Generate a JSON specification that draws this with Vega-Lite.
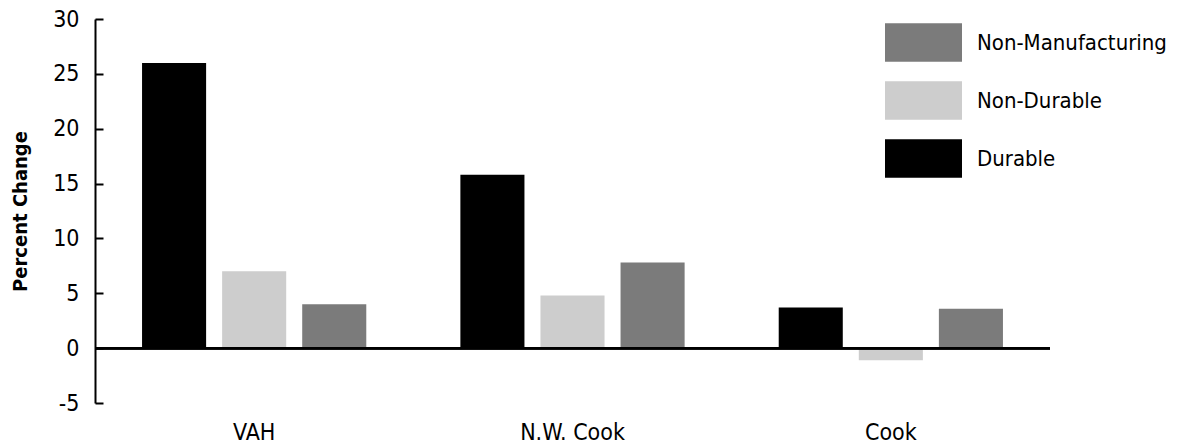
{
  "$schema": "https://vega.github.io/schema/vega-lite/v6.json",
  "width": 955,
  "height": 384,
  "autosize": "none",
  "padding": {"left": 95, "top": 19, "right": 136, "bottom": 43},
  "config": {"view": {"stroke": null}, "font": "DejaVu Sans Condensed", "background": "white"},
  "data": {"values": [
    {"region": "VAH", "sector": "Durable", "value": 26},
    {"region": "VAH", "sector": "Non-Durable", "value": 7},
    {"region": "VAH", "sector": "Non-Manufacturing", "value": 4},
    {"region": "N.W. Cook", "sector": "Durable", "value": 15.8},
    {"region": "N.W. Cook", "sector": "Non-Durable", "value": 4.8},
    {"region": "N.W. Cook", "sector": "Non-Manufacturing", "value": 7.8},
    {"region": "Cook", "sector": "Durable", "value": 3.7},
    {"region": "Cook", "sector": "Non-Durable", "value": -1.1},
    {"region": "Cook", "sector": "Non-Manufacturing", "value": 3.6}
  ]},
  "layer": [
    {
      "mark": {"type": "bar"},
      "encoding": {
        "x": {"field": "region", "type": "nominal", "sort": ["VAH", "N.W. Cook", "Cook"],
          "scale": {"paddingInner": 0, "paddingOuter": 0},
          "axis": {"title": null, "domain": false, "ticks": false, "labelAngle": 0, "labelPadding": 18, "labelFontSize": 23, "labelColor": "black", "labelFont": "DejaVu Sans Condensed"}},
        "xOffset": {"field": "sector", "sort": ["Durable", "Non-Durable", "Non-Manufacturing"],
          "scale": {"paddingInner": 0.2, "paddingOuter": 0.5875}},
        "y": {"field": "value", "type": "quantitative",
          "scale": {"domain": [-5, 30], "nice": false, "zero": false},
          "axis": {"title": "Percent Change", "values": [-5, 0, 5, 10, 15, 20, 25, 30], "grid": false,
            "labelExpr": "replace(datum.label, '\u2212', '-')",
            "domainColor": "black", "domainWidth": 2, "tickColor": "black", "tickWidth": 2, "tickSize": -8,
            "labelPadding": 24, "labelFontSize": 23, "labelColor": "black", "labelFont": "DejaVu Sans Condensed",
            "titleFontSize": 20, "titleFontWeight": "bold", "titleColor": "black", "titlePadding": 22, "titleFont": "DejaVu Sans Condensed"}},
        "color": {"field": "sector", "type": "nominal",
          "scale": {"domain": ["Non-Manufacturing", "Non-Durable", "Durable"], "range": ["#7b7b7b", "#cdcdcd", "#000000"]},
          "legend": {"title": null, "orient": "none", "legendX": 790, "legendY": -15,
            "symbolType": "M-1,-0.5H1V0.5H-1Z", "symbolSize": 5929, "symbolStrokeWidth": 0, "symbolOpacity": 1,
            "labelFontSize": 22, "labelColor": "black", "labelOffset": 15, "labelLimit": 300, "labelFont": "DejaVu Sans Condensed", "rowPadding": 0}}
      }
    },
    {"mark": {"type": "rule", "color": "black", "strokeWidth": 2}, "encoding": {"y": {"datum": 0}}}
  ]
}
